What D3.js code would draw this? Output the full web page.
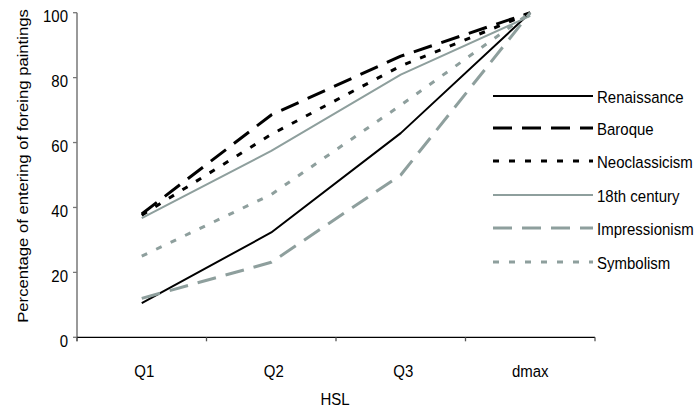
<!DOCTYPE html>
<html><head><meta charset="utf-8">
<script src="https://cdn.jsdelivr.net/npm/d3@7"></script>
<style>body{margin:0;background:#fff}svg{display:block}text{font-family:"Liberation Sans",Arial,sans-serif;fill:#000}</style>
</head><body>
<svg id="c" width="697" height="409"></svg>
<script>
const categories = ["Q1","Q2","Q3","dmax"];
const seriesNames = ["Renaissance","Baroque","Neoclassicism","18th century","Impressionism","Symbolism"];
const renaissance   = [10.5, 32.3, 62.9, 100];
const baroque       = [38.0, 68.5, 86.6, 100];
const neoclassicism = [37.6, 62.5, 83.6, 99.8];
const century18     = [36.7, 57.4, 80.9, 99.0];
const impressionism = [12.0, 23.1, 50.0, 100];
const symbolism     = [25.0, 44.0, 71.5, 100];
const yTicks = [0,20,40,60,80,100];
const xTitle = "HSL";
const yTitle = "Percentage of entering of foreing paintings";

const GREY = "#8e9f9d";
const styles = [
  {color:"#000", width:2, dash:null},
  {color:"#000", width:3, dash:"19,10"},
  {color:"#000", width:3, dash:"6,10"},
  {color:GREY, width:2, dash:null},
  {color:GREY, width:3, dash:"19,10"},
  {color:GREY, width:3, dash:"6,10"}
];
const allSeries = [renaissance, baroque, neoclassicism, century18, impressionism, symbolism];

const svg = d3.select("#c");
const x = d3.scaleBand().domain(categories).range([77, 595]);
const y = d3.scaleLinear().domain([0,100]).range([337.3, 12.7]);
const SY = 1.15;

// y axis
svg.append("line").attr("x1",77).attr("x2",77).attr("y1",y(100)).attr("y2",y(0)+4)
  .attr("stroke","#777").attr("stroke-width",1.5);
yTicks.forEach(t=>{
  svg.append("line").attr("x1",73).attr("x2",77).attr("y1",y(t)).attr("y2",y(t)).attr("stroke","#777").attr("stroke-width",1.3);
  svg.append("text").attr("text-anchor","end")
    .attr("transform",`translate(68,${y(t)+9.5}) scale(1,${SY})`)
    .style("font-size","15px").text(t);
});
// x axis
svg.append("line").attr("x1",77).attr("x2",595).attr("y1",y(0)).attr("y2",y(0)).attr("stroke","#000").attr("stroke-width",1.3);
const bounds = categories.map(c=>x(c)).concat([x(categories[categories.length-1])+x.bandwidth()]);
bounds.forEach(b=>{
  svg.append("line").attr("x1",b).attr("x2",b).attr("y1",y(0)).attr("y2",y(0)+4).attr("stroke","#555").attr("stroke-width",1.3);
});
categories.forEach((c,i)=>{
  svg.append("text").attr("text-anchor","middle")
    .attr("transform",`translate(${x(c)+x.bandwidth()/2+(i<3?2.5:0)},377) scale(1,${SY})`)
    .style("font-size","15px").text(c);
});
svg.append("text").attr("text-anchor","middle")
  .attr("transform",`translate(335,405) scale(1,${SY})`)
  .style("font-size","15px").text(xTitle);
svg.append("text").attr("text-anchor","middle")
  .attr("transform",`translate(28,166) scale(1,1.11) rotate(-90)`)
  .style("font-size","15px").text(yTitle);

// lines
const line = d3.line().x((d,i)=>x(categories[i])+x.bandwidth()/2).y(d=>y(d));
allSeries.forEach((s,i)=>{
  const st = styles[i];
  svg.append("path").datum(s).attr("d",line).attr("fill","none")
    .attr("stroke",st.color).attr("stroke-width",st.width)
    .attr("stroke-dasharray",st.dash).attr("stroke-linejoin","round");
});

// legend
const legY = [96, 128, 161, 195, 228, 262];
seriesNames.forEach((n,i)=>{
  const st = styles[i];
  svg.append("line").attr("x1",493).attr("x2",593).attr("y1",legY[i]).attr("y2",legY[i])
    .attr("stroke",st.color).attr("stroke-width",st.width).attr("stroke-dasharray",st.dash);
  svg.append("text").attr("transform",`translate(597,${legY[i]+7}) scale(1,${SY})`)
    .style("font-size","15px").text(n);
});
</script>
</body></html>
